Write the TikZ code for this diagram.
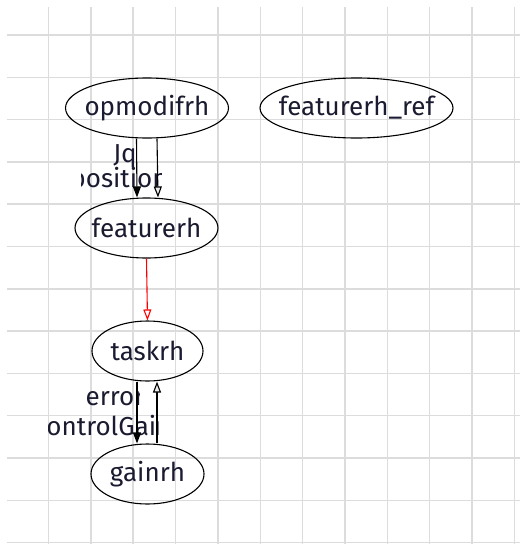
\documentclass[tikz,border=0pt]{standalone}
\usepackage{fontspec}
\setmainfont{Fira Sans}
\usetikzlibrary{calc,arrows.meta,shapes.geometric}
\definecolor{gridc}{HTML}{DCDCDC}
\definecolor{txt}{HTML}{1A1A30}
\newcommand{\zb}[1]{\makebox[0pt]{#1}}
\begin{document}
\begin{tikzpicture}[x=1pt,y=-1pt,
  nd/.style={draw=black, line width=1.1pt, ellipse, inner sep=0pt, font=\fontsize{26}{28}\selectfont, text=txt},
  lbl/.style={inner sep=0pt, font=\fontsize{26}{28}\selectfont, text=txt},
  conn/.style={line width=1.1pt},
  fa/.style={-{Triangle[length=11pt,width=8pt]}},
  oa/.style={-{Triangle[open,length=11pt,width=8pt,fill=gridc!50]}},
  gridline/.style={gridc, line width=1.5pt}]
\useasboundingbox (0,0) rectangle (520,544);
\fill[white] (0,0) rectangle (520,544);
\foreach \i in {0,...,11} \draw[gridline] ({48.5+42.35*\i},7) -- ({48.5+42.35*\i},544);
\foreach \j in {0,...,12} \draw[gridline] (7,{35+42.3*\j}) -- (520,{35+42.3*\j});

\node[nd, minimum width=163pt, minimum height=60pt] (opmodifrh) at (147,108) {\zb{opmodifrh}};
\node[nd, minimum width=193pt, minimum height=60pt] (featurerhref) at (356.5,108) {\zb{featurerh\_ref}};
\node[nd, minimum width=143pt, minimum height=60pt] (featurerh) at (146.5,228) {\zb{featurerh}};
\node[nd, minimum width=111pt, minimum height=60pt] (taskrh) at (147.5,351) {\zb{taskrh}};
\node[nd, minimum width=113pt, minimum height=60pt] (gainrh) at (147.5,474) {\zb{gainrh}};

\node[lbl] (jq) at (125,156) {Jq};
\begin{scope}
\clip (81,165) rectangle (161,197);
\node[lbl] (pos) at (119,180) {position};
\end{scope}
\begin{scope}
\clip (0,385) rectangle (139,412);
\node[lbl] (err) at (115,399) {error};
\end{scope}
\begin{scope}
\clip (48,412) rectangle (158,442);
\node[lbl] (cg) at (103,426) {controlGain};
\end{scope}

\draw[conn, fa] ($(opmodifrh.south)+(-10.5,0)$) -- ($(featurerh.north)+(-9.5,0)$);
\draw[conn, oa] ($(opmodifrh.south)+(10,0)$) -- ($(featurerh.north)+(11.5,0)$);
\draw[conn, red, -{Triangle[open,length=11pt,width=8pt]}] (featurerh.south) -- (taskrh.north);
\draw[conn, fa] ($(taskrh.south)+(-10.5,0)$) -- ($(gainrh.north)+(-10.5,0)$);
\draw[conn, oa] ($(gainrh.north)+(9.5,0)$) -- ($(taskrh.south)+(9.5,0)$);
\end{tikzpicture}
\end{document}
